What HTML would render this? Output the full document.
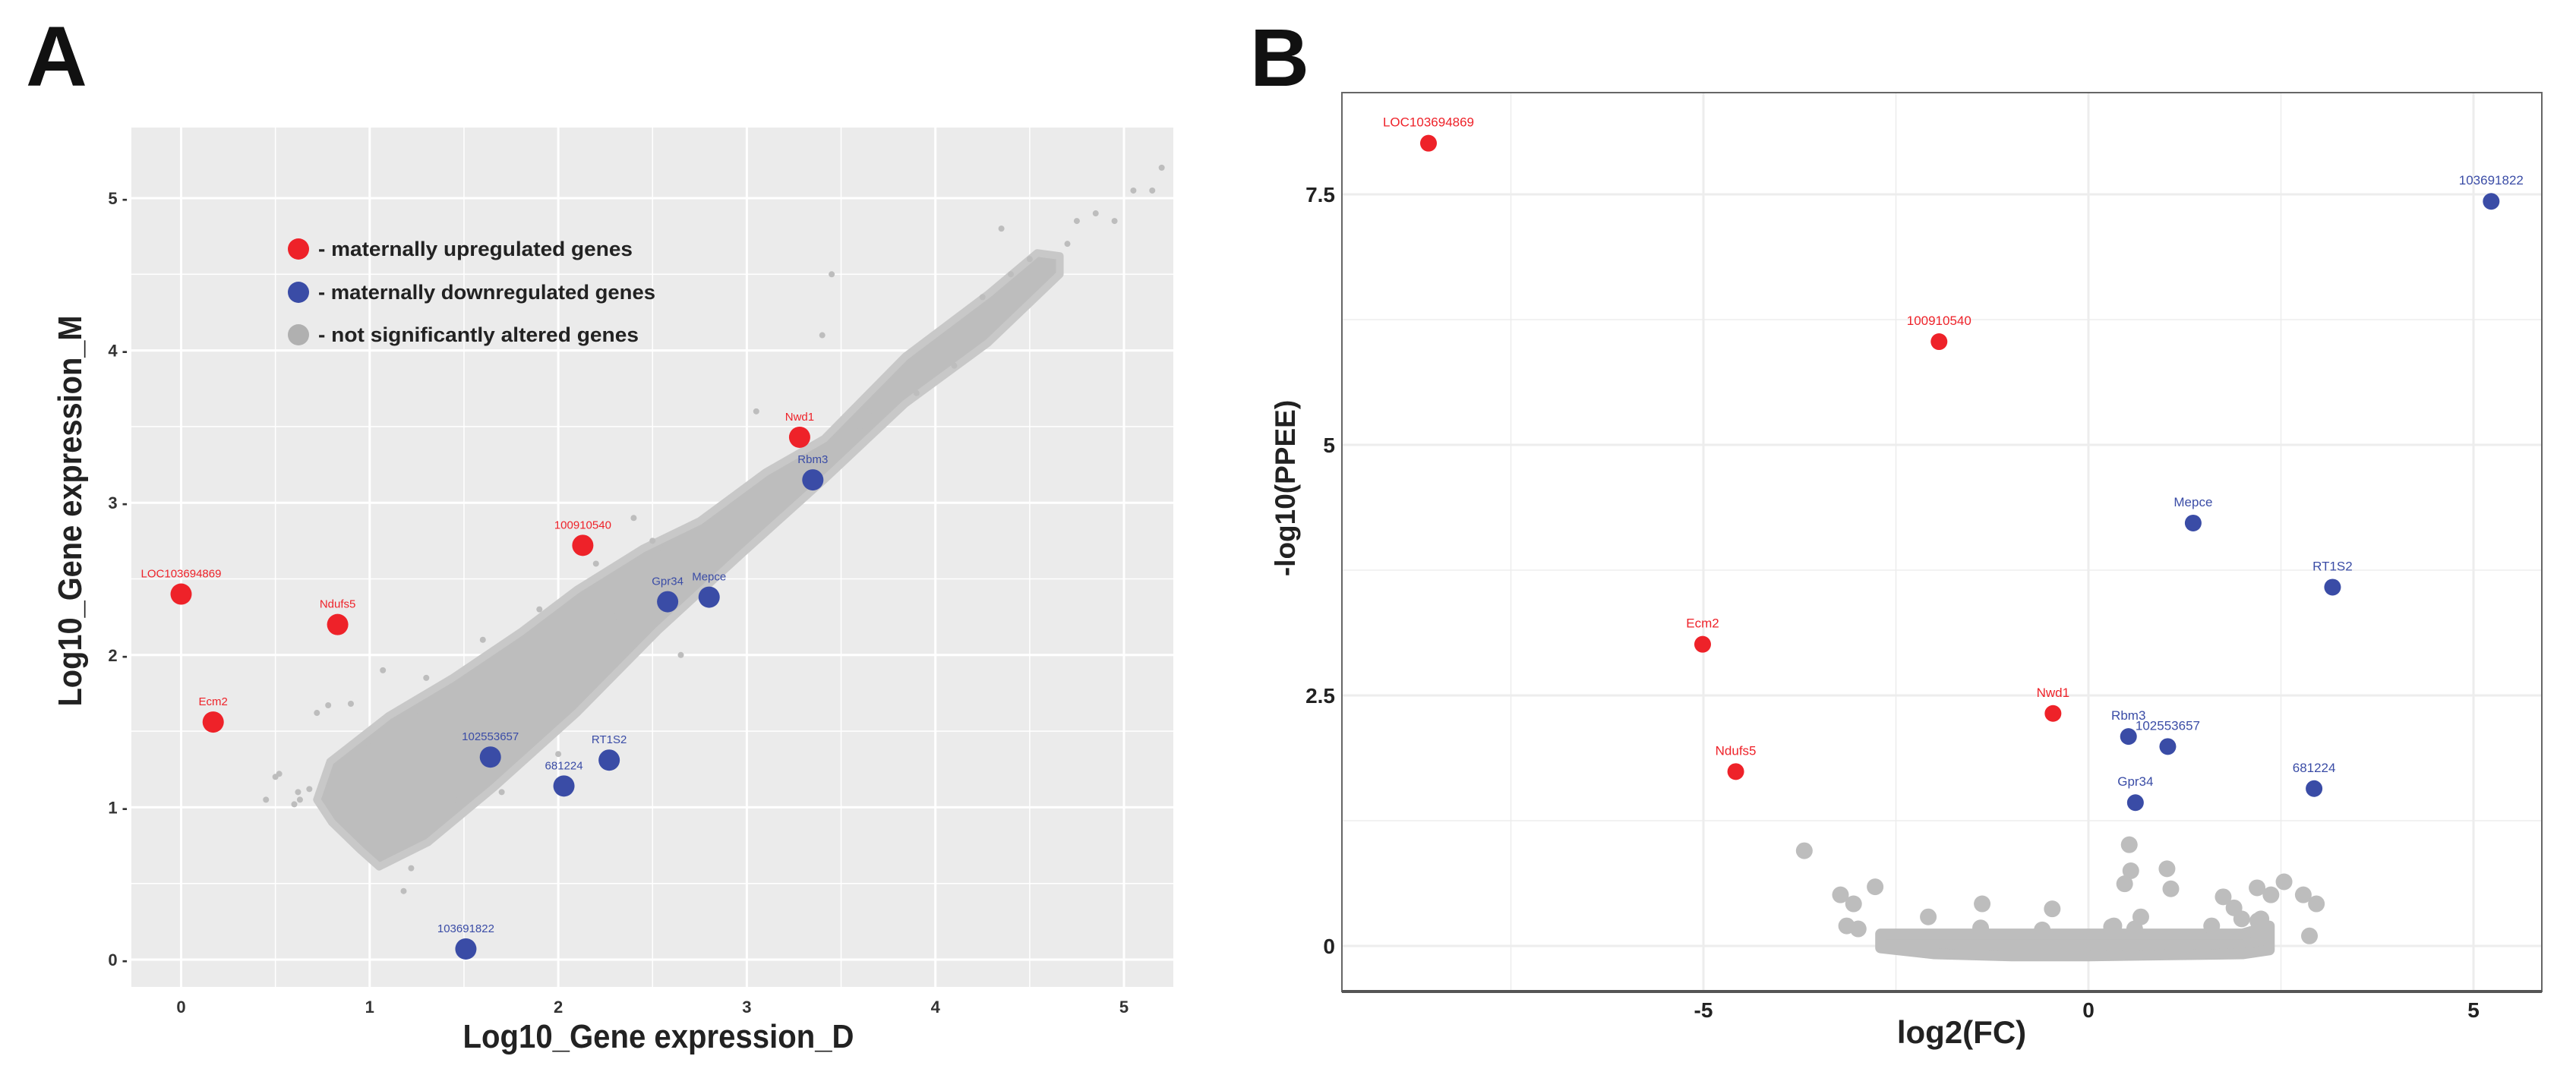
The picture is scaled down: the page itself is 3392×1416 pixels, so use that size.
<!DOCTYPE html>
<html><head><meta charset="utf-8"><style>
html,body{margin:0;padding:0;background:#fff;overflow:hidden;}
svg{display:block;font-family:"Liberation Sans",Arial,sans-serif;}
</style></head><body>
<svg id="fig" width="3392" height="1416" viewBox="0 0 3392 1416" xmlns="http://www.w3.org/2000/svg">
<g id="panelA"></g>
<g id="panelB"></g>
</svg>
<script>
// ---------- Panel A data ----------
const aTicks = [0,1,2,3,4,5];
const aGenes = ["LOC103694869","Ecm2","Ndufs5","100910540","Nwd1","Rbm3","Gpr34","Mepce","102553657","681224","RT1S2","103691822"];
const aGeneX = [0,0.17,0.83,2.13,3.28,3.35,2.58,2.80,1.64,2.03,2.27,1.51];
const aGeneY = [2.40,1.56,2.20,2.72,3.43,3.15,2.35,2.38,1.33,1.14,1.31,0.07];
const aGeneUp = [1,1,1,1,1,0,0,0,0,0,0,0];
const aBandUpperX = [0.72,0.79,1.1,1.44,1.8,2.1,2.45,2.75,3.1,3.41,3.84,4.28,4.54,4.66];
const aBandUpperY = [1.05,1.3,1.6,1.85,2.15,2.43,2.7,2.88,3.2,3.42,3.96,4.37,4.64,4.62];
const aBandLowerX = [4.66,4.28,3.84,3.41,2.97,2.53,2.10,1.66,1.31,1.05,0.95,0.8];
const aBandLowerY = [4.5,4.05,3.65,3.15,2.66,2.16,1.62,1.13,0.77,0.61,0.72,0.9];
const aOutX = [0.45,0.5,0.52,0.6,0.63,0.72,0.78,0.9,1.07,1.25,1.3,1.9,2.2,2.55,2.65,2.4,3.05,3.3,3.4,3.45,3.65,4.1,4.25,4.4,4.5,4.7,4.75,4.85,4.95,5.05,5.15,5.2,4.35,1.18,1.22,1.7,1.45,2.1,2.3,1.0,0.62,3.9,2.75,3.6,0.68,1.6,2.5,2.0];
const aOutY = [1.05,1.2,1.22,1.02,1.05,1.62,1.67,1.68,1.9,1.6,1.85,2.3,2.6,2.7,2.0,2.9,3.6,3.3,4.1,4.5,3.6,3.9,4.35,4.5,4.6,4.7,4.85,4.9,4.85,5.05,5.05,5.2,4.8,0.45,0.6,1.1,1.05,1.7,2.25,1.4,1.1,3.72,2.5,3.5,1.12,2.1,2.75,1.35];

// ---------- Panel B data ----------
const bXTicks = [-5,0,5];
const bXTickLabels = ["-5","0","5"];
const bYTicks = [0,2.5,5,7.5];
const bYTickLabels = ["0","2.5","5","7.5"];
const bGenes = ["LOC103694869","100910540","Ecm2","Ndufs5","Nwd1","Rbm3","102553657","Gpr34","681224","RT1S2","Mepce","103691822"];
const bGeneX = [-8.57,-1.94,-5.01,-4.58,-0.46,0.52,1.03,0.61,2.93,3.17,1.36,5.23];
const bGeneY = [8.01,6.03,3.01,1.74,2.32,2.09,1.99,1.43,1.57,3.58,4.22,7.43];
const bGeneUp = [1,1,1,1,1,0,0,0,0,0,0,0];
const bBandX = [-2.7,-2.0,-1.0,0.0,1.0,2.0,2.35];
const bBandTop = [0.12,0.12,0.12,0.12,0.12,0.12,0.2];
const bBandBottom = [-0.02,-0.08,-0.1,-0.1,-0.09,-0.08,-0.04];
const bGrayX = [-3.69,-3.22,-3.05,-2.77,-3.14,-2.99,-2.08,-1.38,-0.47,0.53,0.55,0.47,1.02,1.07,0.68,1.75,1.89,1.99,2.19,2.37,2.54,2.79,2.96,2.87,2.24,0.33,-1.4,-0.6,0.3,0.6,1.6,2.2];
const bGrayY = [0.95,0.51,0.42,0.59,0.2,0.17,0.29,0.42,0.37,1.01,0.75,0.62,0.77,0.57,0.29,0.49,0.38,0.27,0.58,0.51,0.64,0.51,0.42,0.1,0.27,0.2,0.18,0.16,0.19,0.17,0.2,0.25];

const NS="http://www.w3.org/2000/svg";
function mk(parent,tag,attrs,text){const e=document.createElementNS(NS,tag);for(const k in attrs)e.setAttribute(k,attrs[k]);if(text!==undefined)e.textContent=text;parent.appendChild(e);return e;}
const RED="#ee2229", BLUE="#3a4ca6", GRAY="#bdbdbd";

// ===== Panel A =====
(function(){
const g=document.getElementById('panelA');
const ax=v=>238.5+v*248.3, ay=v=>1264-v*200.6;
let t=mk(g,'text',{x:34,y:113,'font-size':112,'font-weight':'bold',fill:'#111'},'A');


let bg=mk(g,'rect',{x:173,y:168,width:1372,height:1132,fill:'#ebebeb'});


for(let v=-0.5;v<=5.5;v+=0.5){
 const X=ax(v); if(X>173&&X<1545){let l=mk(g,'line',{x1:X,x2:X,y1:168,y2:1300,stroke:'#fff','stroke-width':(v%1===0)?3:1.5});}
 const Y=ay(v); if(Y>168&&Y<1300){let l=mk(g,'line',{x1:173,x2:1545,y1:Y,y2:Y,stroke:'#fff','stroke-width':(v%1===0)?3:1.5});}
}
aTicks.forEach(v=>{
 let a=mk(g,'text',{x:ax(v),y:1334,'font-size':22,'font-weight':'bold','text-anchor':'middle',fill:'#333'},String(v));
 
 let b=mk(g,'text',{x:168,y:ay(v)+8,'font-size':22,'font-weight':'bold','text-anchor':'end',fill:'#333'},String(v)+' -');
 
});
let xt=mk(g,'text',{x:867,y:1380,'font-size':44,'font-weight':'bold','text-anchor':'middle',fill:'#222',textLength:515,lengthAdjust:'spacingAndGlyphs'},'Log10_Gene expression_D');

let yt=mk(g,'text',{x:0,y:0,'font-size':44,'font-weight':'bold','text-anchor':'middle',fill:'#222',textLength:515,lengthAdjust:'spacingAndGlyphs',transform:'translate(107,673) rotate(-90)'},'Log10_Gene expression_M');

let pts=[];aBandUpperX.forEach((x,i)=>pts.push(ax(x)+','+ay(aBandUpperY[i])));aBandLowerX.forEach((x,i)=>pts.push(ax(x)+','+ay(aBandLowerY[i])));
let band=mk(g,'polygon',{points:pts.join(' '),fill:GRAY,stroke:'#c8c8c8','stroke-width':10,'stroke-linejoin':'round'});

aOutX.forEach((x,i)=>{let c=mk(g,'circle',{cx:ax(x),cy:ay(aOutY[i]),r:4,fill:GRAY});});
aGenes.forEach((n,i)=>{
 const col=aGeneUp[i]?RED:BLUE;
 let c=mk(g,'circle',{cx:ax(aGeneX[i]),cy:ay(aGeneY[i]),r:14,fill:col});
 
 let l=mk(g,'text',{x:ax(aGeneX[i]),y:ay(aGeneY[i])-22,'font-size':15,'text-anchor':'middle',fill:col},n);
 
});
const legCols=[RED,BLUE,'#b0b0b0'];
const legText=['- maternally upregulated genes','- maternally downregulated genes','- not significantly altered genes'];
const legLen=[414,444,422];
const legY=[328,385,441];
legCols.forEach((c,i)=>{
 let d=mk(g,'circle',{cx:393,cy:legY[i],r:14,fill:c});
 let tx=mk(g,'text',{x:419,y:legY[i]+9,'font-size':27,'font-weight':'bold',fill:'#222',textLength:legLen[i],lengthAdjust:'spacingAndGlyphs'},legText[i]);
 
});
})();

// ===== Panel B =====
(function(){
const g=document.getElementById('panelB');
const bx=v=>2750+v*101.4, by=v=>1246-v*132;
let t=mk(g,'text',{x:1646,y:113,'font-size':108,'font-weight':'bold',fill:'#111'},'B');

let bg=mk(g,'rect',{x:1767,y:122,width:1580,height:1184,fill:'#fff',stroke:'#666','stroke-width':2});

for(let v=-7.5;v<=5;v+=2.5){let l=mk(g,'line',{x1:bx(v),x2:bx(v),y1:123,y2:1305,stroke:'#ededed','stroke-width':(v%5===0)?3:1.5});}
for(let v=0;v<=7.5;v+=1.25){let l=mk(g,'line',{x1:1768,x2:3346,y1:by(v),y2:by(v),stroke:'#ededed','stroke-width':(v%2.5===0)?3:1.5});}
let bl=mk(g,'line',{x1:1767,x2:3347,y1:1306,y2:1306,stroke:'#555','stroke-width':4});

bXTicks.forEach((v,i)=>{let a=mk(g,'text',{x:bx(v),y:1340,'font-size':28,'font-weight':'bold','text-anchor':'middle',fill:'#222'},bXTickLabels[i]);});
bYTicks.forEach((v,i)=>{let a=mk(g,'text',{x:1758,y:by(v)+10,'font-size':28,'font-weight':'bold','text-anchor':'end',fill:'#222'},bYTickLabels[i]);});
let xt=mk(g,'text',{x:2583,y:1374,'font-size':42,'font-weight':'bold','text-anchor':'middle',fill:'#222'},'log2(FC)');

let yt=mk(g,'text',{x:0,y:0,'font-size':37,'font-weight':'bold','text-anchor':'middle',fill:'#222',transform:'translate(1705,643) rotate(-90)'},'-log10(PPEE)');

let bp=[];bBandX.forEach((x,i)=>bp.push(bx(x)+','+by(bBandTop[i])));for(let i=bBandX.length-1;i>=0;i--)bp.push(bx(bBandX[i])+','+by(bBandBottom[i]));
let band=mk(g,'polygon',{points:bp.join(' '),fill:GRAY,stroke:GRAY,'stroke-width':14,'stroke-linejoin':'round'});

bGrayX.forEach((x,i)=>{let c=mk(g,'circle',{cx:bx(x),cy:by(bGrayY[i]),r:11,fill:GRAY});});
bGenes.forEach((n,i)=>{
 const col=bGeneUp[i]?RED:BLUE;
 let c=mk(g,'circle',{cx:bx(bGeneX[i]),cy:by(bGeneY[i]),r:11,fill:col});
 
 let l=mk(g,'text',{x:bx(bGeneX[i]),y:by(bGeneY[i])-22,'font-size':17,'text-anchor':'middle',fill:col},n);
 
});
})();
</script>
</body></html>
